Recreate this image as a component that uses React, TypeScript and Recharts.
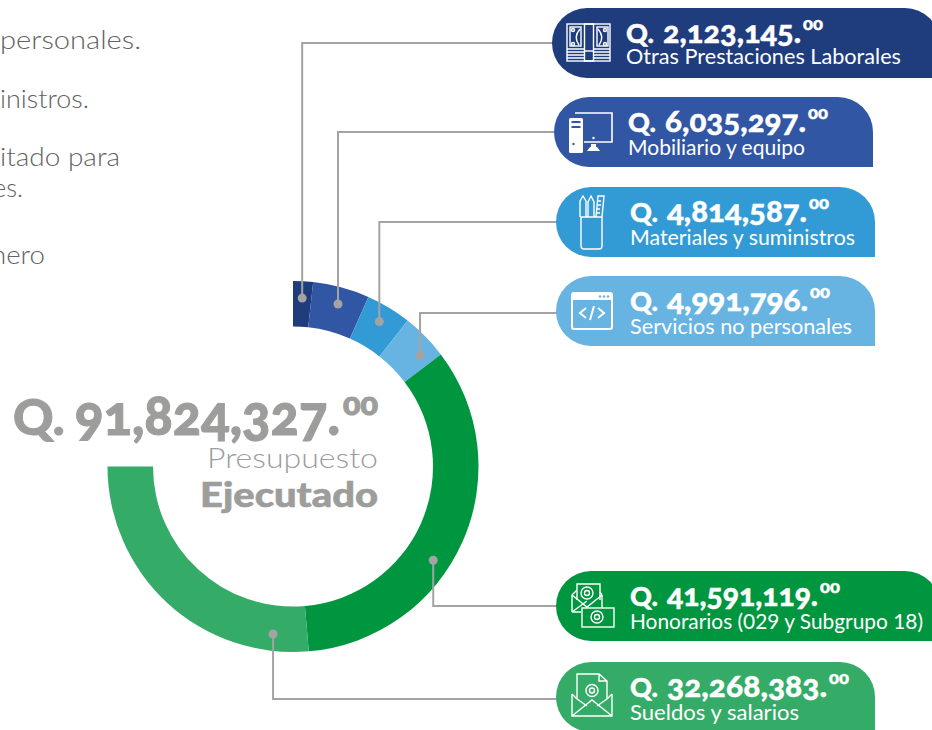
import { PieChart, Pie, Cell } from "recharts";

const categories = [
  "Otras Prestaciones Laborales",
  "Mobiliario y equipo",
  "Materiales y suministros",
  "Servicios no personales",
  "Honorarios (029 y Subgrupo 18)",
  "Sueldos y salarios",
];
const values = [2123145, 6035297, 4814587, 4991796, 41591119, 32268383];
const colors = ["#1f3c7d", "#3056a4", "#329bd6", "#67b4e2", "#00963f", "#35ab68"];
const totalLabel = "91,824,327.";
const bodyLines = [
  { text: "personales.", x: 0, width: 141, y: 49 },
  { text: "inistros.", x: 0, width: 89, y: 108 },
  { text: "itado para", x: 0, width: 120, y: 166 },
  { text: "es.", x: -7, width: 30, y: 197 },
  { text: "nero", x: -9, width: 54, y: 264 },
];

// where each leader touches its slice (fraction of the slice's sweep)
const leaderFractions = [0.5, 0.52, 0.48, 0.73, 0.58, 0.123];
// elbow height of each leader
const leaderRows = [43, 132, 222, 313, 606, 699];
// pills: left edge, top, right edge
const pills = [
  [552, 8, 940],
  [554, 97, 873],
  [556, 187, 875],
  [556, 276, 875],
  [556, 571, 940],
  [556, 662, 875],
];
// drawn widths of the figures and the labels, the fonts here run narrower than the original
const amountWidths = [138, 141, 140, 141, 151, 160];
const labelWidths = [275, 177, 225, 222, 293, 169];
const labelOffsets = [56, 57.5, 57.5, 57.5, 57.5, 57.5];

const font = "Lato, 'Open Sans', sans-serif";
const oldStyle = { fontFeatureSettings: '"onum" 1', fontVariantNumeric: "oldstyle-nums" };
const RAD = Math.PI / 180;

function renderLeader(props: any) {
  const { cx, cy, innerRadius, outerRadius, startAngle, endAngle, index } = props;
  const angle = startAngle + (endAngle - startAngle) * leaderFractions[index];
  const r = innerRadius + (outerRadius - innerRadius) * 0.63;
  const x = cx + r * Math.cos(angle * RAD);
  const y = cy - r * Math.sin(angle * RAD);
  const row = leaderRows[index];
  const endX = pills[index][0] + 4;
  return (
    <g key={index}>
      <polyline points={`${x},${y} ${x},${row} ${endX},${row}`} fill="none" stroke="#a3a3a3" strokeWidth={2} />
      <circle cx={x} cy={y} r={4.5} fill="#a3a3a3" />
    </g>
  );
}

function pillPath(l: number, t: number, r: number) {
  const h = 70;
  const c = 35;
  return `M${l + c},${t} H${r - c} A${c},${c} 0 0 1 ${r},${t + c} V${t + h} H${l + c} A${c},${c} 0 0 1 ${l + c},${t} Z`;
}

const line = { fill: "none", stroke: "#fff", strokeWidth: 1.4 };

// icons are drawn in pill coordinates
function Icon({ index }: { index: number }) {
  if (index === 0) {
    return (
      <g {...line}>
        <rect x={15} y={16} width={43} height={37} />
        <path d="M15,41 H32.5 M41.5,41 H58 M15,44 H32.5 M41.5,44 H58 M15,47 H32.5 M41.5,47 H58 M15,50 H32.5 M41.5,50 H58" />
        <rect x={32.5} y={16} width={9} height={37} />
        <path d="M32.5,43 H41.5" />
        <rect x={18} y={19} width={11} height={19} />
        <rect x={45} y={19} width={11} height={19} />
        <path d="M28,21 Q21,29 27,37 M46,21 Q53,29 47,37" />
        <circle cx={21} cy={22} r={1.5} />
        <circle cx={21} cy={36} r={1.5} />
        <circle cx={53} cy={22} r={1.5} />
        <circle cx={53} cy={36} r={1.5} />
      </g>
    );
  }
  if (index === 1) {
    return (
      <g>
        <path d="M21,16 H58 V45 H30" {...line} strokeWidth={1.6} />
        <rect x={15} y={21} width={14} height={35} rx={1.5} fill="#fff" />
        <rect x={17.5} y={24} width={9} height={2} fill="#3056a4" />
        <rect x={17.5} y={29} width={9} height={2} fill="#3056a4" />
        <circle cx={19.5} cy={47} r={1.2} fill="#3056a4" />
        <circle cx={39.5} cy={41} r={1.2} fill="#fff" />
        <rect x={37} y={47} width={5} height={3} fill="#fff" />
        <path d="M33,54 L36,50 H43 L46,54 Z" fill="#fff" />
      </g>
    );
  }
  if (index === 2) {
    return (
      <g {...line}>
        <path d="M25,30 V59 Q25,62 28,62 H43 Q46,62 46,59 V30 Z" />
        <path d="M24,30 V14 L27,9 L30,14 V30 M32,30 V15 L35,9 L38,15 V30 M40,30 L42,9 H48 L46,30" />
        <path d="M42,14 H45 M42,18 H45 M41,22 H44 M41,26 H44" />
      </g>
    );
  }
  if (index === 3) {
    return (
      <g>
        <rect x={16} y={17} width={40} height={36} rx={2} {...line} strokeWidth={2} />
        <rect x={16} y={17} width={40} height={7} fill="#fff" />
        <circle cx={44} cy={20.5} r={1.2} fill="#67b4e2" />
        <circle cx={48} cy={20.5} r={1.2} fill="#67b4e2" />
        <circle cx={52} cy={20.5} r={1.2} fill="#67b4e2" />
        <path d="M30,32 L24,37 L30,42 M42,32 L48,37 L42,42 M38,30 L34,44" {...line} strokeWidth={2} />
      </g>
    );
  }
  if (index === 4) {
    return (
      <g {...line}>
        <path d="M21,29 V13 H44 V29" />
        <path d="M16,41 V24 L21,19 M46,24 L44,21 M46,24 V37 M16,24 L31,36 L46,24 M16,41 L31,30 M16,41 H25" />
        <circle cx={31} cy={22} r={6} />
        <circle cx={31} cy={22} r={2.5} />
        <rect x={26} y={37} width={32} height={19} />
        <circle cx={41} cy={46} r={6} />
        <circle cx={41} cy={46} r={2.5} />
      </g>
    );
  }
  return (
    <g {...line}>
      <path d="M21,37 V12 H43 L51,19 V37 M43,12 V19 H51" />
      <path d="M16,32 V54 H56 V32 M16,54 L36,38 L56,54 M16,32 L21,37 M56,32 L51,37 M21,37 L31,44 M51,37 L41,44" />
      <circle cx={36} cy={28.5} r={6} />
      <circle cx={36} cy={28.5} r={2.5} />
    </g>
  );
}

// "Q." + figures + raised cents, each fitted to the width it has in the original
function Amount({ x, y, qSize, size, digits, digitsX, digitsWidth, supX, supSize, supWidth, rise, heavy }: any) {
  const common = {
    fill: "currentColor",
    stroke: "currentColor",
    strokeWidth: heavy,
    fontFamily: font,
    fontWeight: 900,
    style: oldStyle,
  };
  return (
    <g>
      <text x={x} y={y} fontSize={qSize} {...common}>Q.</text>
      <text x={digitsX} y={y} fontSize={size} textLength={digitsWidth} lengthAdjust="spacingAndGlyphs" {...common}>
        {digits}
      </text>
      <text x={supX} y={y - rise} fontSize={supSize} textLength={supWidth} lengthAdjust="spacingAndGlyphs" {...common}>
        00
      </text>
    </g>
  );
}

export default function App() {
  const data = categories.map((name, i) => ({ name, value: values[i] }));
  return (
    <div style={{ position: "absolute", left: 0, top: 0, width: 932, height: 730, overflow: "hidden", background: "#fff" }}>
      <PieChart width={932} height={730} margin={{ top: 0, right: 0, bottom: 0, left: 0 }}>
        <Pie
          data={data}
          dataKey="value"
          cx={293}
          cy={466.5}
          innerRadius={140}
          outerRadius={185.5}
          startAngle={90}
          endAngle={-180}
          stroke="none"
          label={renderLeader}
          labelLine={false}
          isAnimationActive={false}
        >
          {data.map((d, i) => (
            <Cell key={d.name} fill={colors[i]} />
          ))}
        </Pie>
      </PieChart>
      <svg width={932} height={730} style={{ position: "absolute", left: 0, top: 0, pointerEvents: "none" }}>
        {bodyLines.map((b) => (
          <text key={b.text} x={b.x} y={b.y} textLength={b.width} lengthAdjust="spacingAndGlyphs" fontFamily={font} fontWeight={300} fontSize={26} fill="#626261">
            {b.text}
          </text>
        ))}
        <g color="#9d9d9c">
          <Amount x={13} y={435} qSize={50} size={55} digits={totalLabel} digitsX={75} digitsWidth={265} supX={343} supSize={30} supWidth={35} rise={20} heavy={1} />
        </g>
        <text x={207} y={468} textLength={171} lengthAdjust="spacingAndGlyphs" fontFamily={font} fontWeight={300} fontSize={28} fill="#9d9d9c">
          Presupuesto
        </text>
        <text x={200} y={507} textLength={178} lengthAdjust="spacingAndGlyphs" fontFamily={font} fontWeight={900} fontSize={34} fill="#9d9d9c" stroke="#9d9d9c" strokeWidth={0.6}>
          Ejecutado
        </text>
        {pills.map(([l, t, r], i) => (
          <g key={categories[i]} color="#fff">
            <path d={pillPath(l, t, r)} fill={colors[i]} />
            <g transform={`translate(${l},${t})`}>
              <Icon index={i} />
            </g>
            <Amount
              x={l + 74}
              y={t + 35}
              qSize={27}
              size={31}
              digits={values[i].toLocaleString("en-US") + "."}
              digitsX={l + 111}
              digitsWidth={amountWidths[i]}
              supX={l + 111 + amountWidths[i] + 2}
              supSize={16}
              supWidth={20}
              rise={13}
              heavy={0.4}
            />
            <text x={l + 74} y={t + labelOffsets[i]} textLength={labelWidths[i]} lengthAdjust="spacingAndGlyphs" fontFamily={font} fontWeight={400} fontSize={21} fill="#fff">
              {categories[i]}
            </text>
          </g>
        ))}
      </svg>
    </div>
  );
}
